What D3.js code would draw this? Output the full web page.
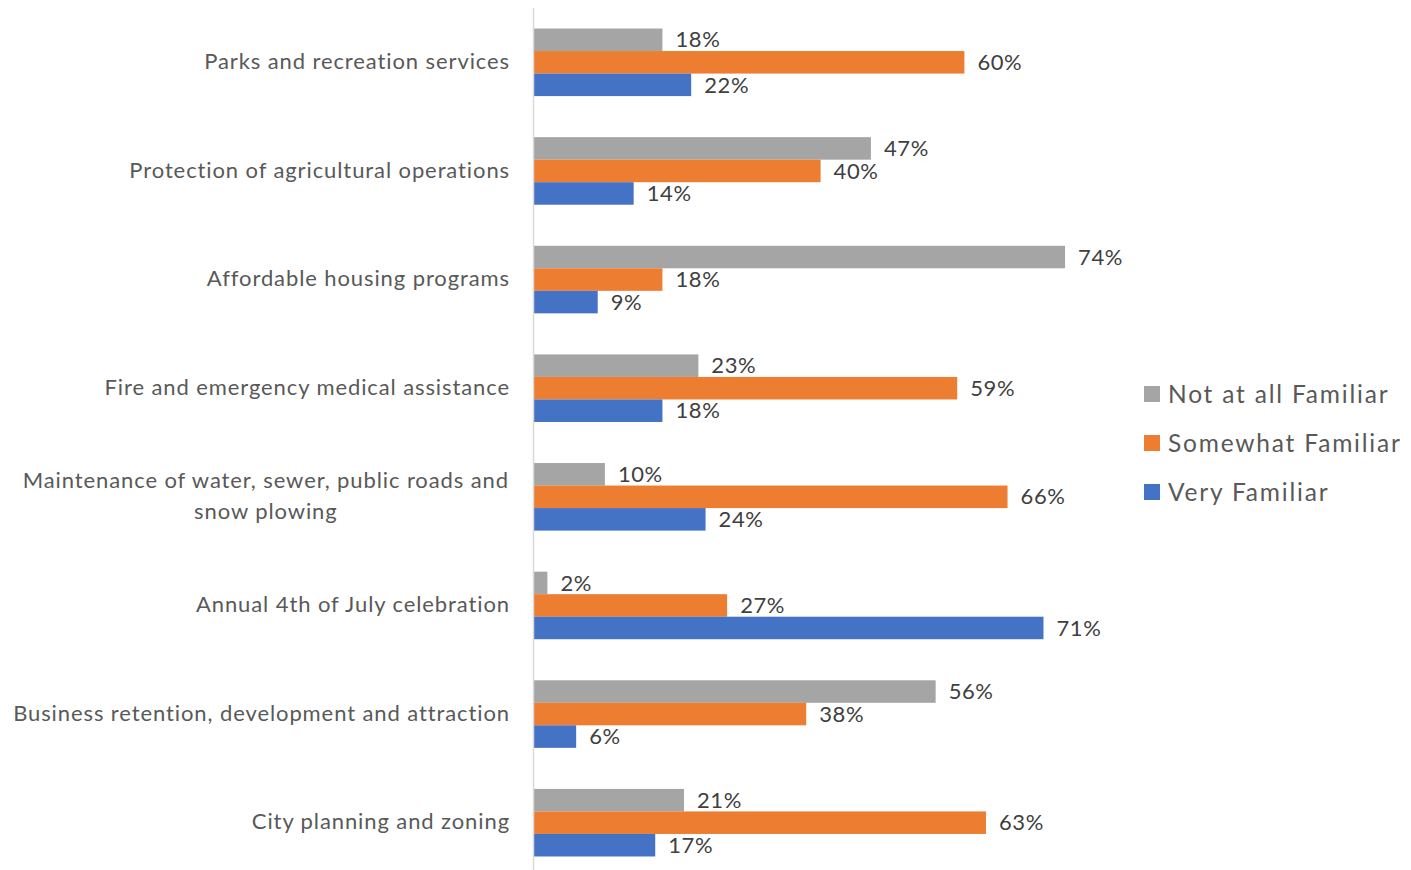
<!DOCTYPE html>
<html>
<head>
<meta charset="utf-8">
<script src="https://cdn.jsdelivr.net/npm/d3@7"></script>
<style>
  html, body { margin: 0; padding: 0; background: #fff; }
  svg { display: block; }
  text { font-family: Lato, "Open Sans", "Liberation Sans", sans-serif; }
</style>
</head>
<body>
<svg id="chart" width="1411" height="870"></svg>
<script>
const categories = [
  "Parks and recreation services",
  "Protection of agricultural operations",
  "Affordable housing programs",
  "Fire and emergency medical assistance",
  "Maintenance of water, sewer, public roads and\nsnow plowing",
  "Annual 4th of July celebration",
  "Business retention, development and attraction",
  "City planning and zoning"
];
const seriesNames = ["Not at all Familiar", "Somewhat Familiar", "Very Familiar"];
const notAtAll   = [18, 47, 74, 23, 10, 2, 56, 21];
const somewhat   = [60, 40, 18, 59, 66, 27, 38, 63];
const very       = [22, 14, 9, 18, 24, 71, 6, 17];
const colors = ["#A5A5A5", "#ED7D31", "#4472C4"];

const seriesValues = [notAtAll, somewhat, very];

const svg = d3.select("#chart");
const axisX = 533;

const y = d3.scaleBand()
  .domain(categories)
  .range([8, 877])
  .paddingInner(0.378)
  .paddingOuter(0.189);

const ySub = d3.scaleBand()
  .domain(seriesNames)
  .range([0, y.bandwidth()]);

const x = d3.scaleLinear().domain([0, 100]).range([axisX, axisX + 719]);

const color = d3.scaleOrdinal().domain(seriesNames).range(colors);

// bars
const groups = svg.append("g").selectAll("g")
  .data(categories)
  .join("g")
  .attr("transform", d => `translate(0,${y(d)})`);

groups.each(function(cat, i) {
  const g = d3.select(this);
  const rows = seriesNames.map((s, k) => ({ s, v: seriesValues[k][i] }));
  g.selectAll("rect")
    .data(rows)
    .join("rect")
    .attr("x", x(0))
    .attr("y", d => ySub(d.s))
    .attr("width", d => x(d.v) - x(0))
    .attr("height", ySub.bandwidth())
    .attr("fill", d => color(d.s));
  g.selectAll("text.lbl")
    .data(rows)
    .join("text")
    .attr("class", "lbl")
    .attr("x", d => x(d.v) + 13)
    .attr("y", d => ySub(d.s) + ySub.bandwidth() / 2)
    .attr("dy", "0.35em")
    .attr("font-size", 22)
    .attr("letter-spacing", "0.6px")
    .attr("fill", "#404040")
    .text(d => d.v + "%");
});

// axis line
svg.append("line")
  .attr("x1", axisX + 0.5).attr("x2", axisX + 0.5)
  .attr("y1", 8).attr("y2", 870)
  .attr("stroke", "#D9D9D9").attr("stroke-width", 1.5);

// category labels
const catG = svg.append("g");
const catFont = 22, catSpacing = "0.9px";
categories.forEach(cat => {
  const lines = cat.split("\n");
  const cy = y(cat) + y.bandwidth() / 2 - 1;
  const lh = 31;
  const t = catG.append("text")
    .attr("font-size", catFont)
    .attr("letter-spacing", catSpacing)
    .attr("fill", "#595959");
  if (lines.length === 1) {
    t.attr("x", 510).attr("y", cy).attr("dy", "0.35em")
      .attr("text-anchor", "end").text(lines[0]);
  } else {
    const tmp = catG.append("text").attr("font-size", catFont)
      .attr("letter-spacing", catSpacing).text(lines[0]);
    const w = tmp.node().getComputedTextLength();
    tmp.remove();
    const cx = 509 - w / 2;
    t.attr("text-anchor", "middle");
    lines.forEach((ln, k) => {
      t.append("tspan")
        .attr("x", cx)
        .attr("y", cy + (k - (lines.length - 1) / 2) * lh)
        .attr("dy", "0.35em")
        .text(ln);
    });
  }
});

// legend
const legend = svg.append("g").attr("transform", "translate(1144,394)");
seriesNames.forEach((s, k) => {
  const row = legend.append("g").attr("transform", `translate(0,${k * 49})`);
  row.append("rect").attr("x", 0).attr("y", -8).attr("width", 16).attr("height", 16)
    .attr("fill", color(s));
  row.append("text").attr("x", 24).attr("y", 0).attr("dy", "0.35em")
    .attr("font-size", 24.5).attr("letter-spacing", "1.8px")
    .attr("fill", "#595959").text(s);
});
</script>
</body>
</html>
